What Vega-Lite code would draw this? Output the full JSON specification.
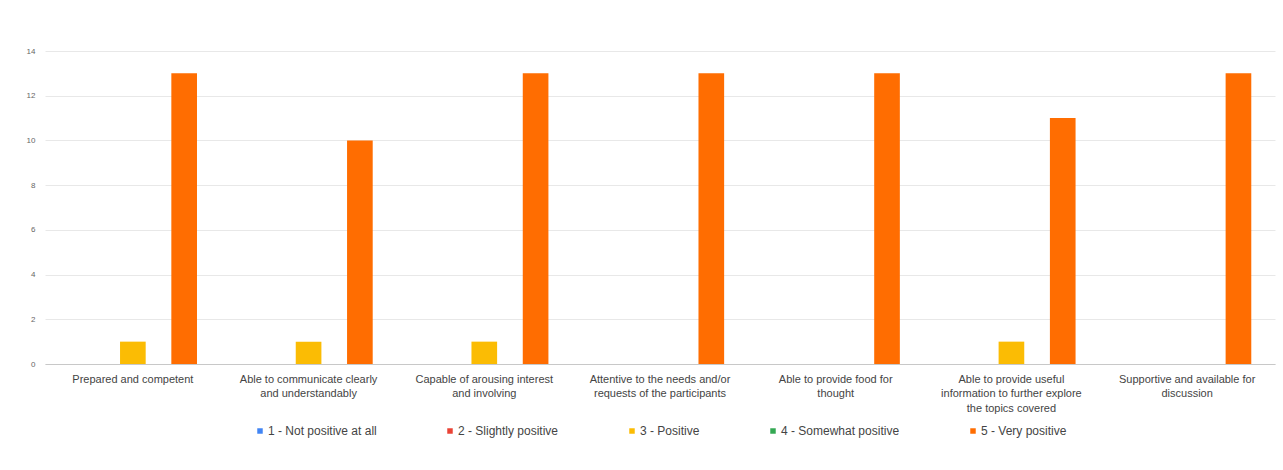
{
  "$schema": "https://vega.github.io/schema/vega-lite/v6.json",
  "autosize": {"type": "none"},
  "padding": {"left": 45, "top": 51, "right": 8, "bottom": 106},
  "width": 1230,
  "height": 313,
  "background": "white",
  "data": {
    "values": [
      {"item": "Prepared and competent", "rating": "3 - Positive", "count": 1},
      {"item": "Prepared and competent", "rating": "5 - Very positive", "count": 13},
      {"item": "Able to communicate clearly|and understandably", "rating": "3 - Positive", "count": 1},
      {"item": "Able to communicate clearly|and understandably", "rating": "5 - Very positive", "count": 10},
      {"item": "Capable of arousing interest|and involving", "rating": "3 - Positive", "count": 1},
      {"item": "Capable of arousing interest|and involving", "rating": "5 - Very positive", "count": 13},
      {"item": "Attentive to the needs and/or|requests of the participants", "rating": "5 - Very positive", "count": 13},
      {"item": "Able to provide food for|thought", "rating": "5 - Very positive", "count": 13},
      {"item": "Able to provide useful|information to further explore|the topics covered", "rating": "3 - Positive", "count": 1},
      {"item": "Able to provide useful|information to further explore|the topics covered", "rating": "5 - Very positive", "count": 11},
      {"item": "Supportive and available for|discussion", "rating": "5 - Very positive", "count": 13}
    ]
  },
  "mark": {"type": "bar"},
  "encoding": {
    "x": {
      "field": "item",
      "type": "nominal",
      "sort": null,
      "title": null,
      "scale": {"paddingInner": 0.27, "paddingOuter": 0.135},
      "axis": {
        "labelAngle": 0,
        "labelExpr": "split(datum.value, '|')",
        "labelFont": "Liberation Sans",
        "labelFontSize": 11,
        "labelColor": "#444444",
        "labelLineHeight": 14.5,
        "labelPadding": 9,
        "labelLimit": 300,
        "ticks": false,
        "domainColor": "#c8c8c8",
        "grid": false
      }
    },
    "xOffset": {
      "field": "rating",
      "type": "nominal",
      "scale": {"domain": ["1 - Not positive at all", "2 - Slightly positive", "3 - Positive", "4 - Somewhat positive", "5 - Very positive"], "paddingInner": 0, "paddingOuter": 0}
    },
    "y": {
      "field": "count",
      "type": "quantitative",
      "title": null,
      "scale": {"domain": [0, 14]},
      "axis": {
        "values": [0, 2, 4, 6, 8, 10, 12, 14],
        "labelFont": "Liberation Sans",
        "labelFontSize": 8,
        "labelColor": "#666666",
        "labelPadding": 10,
        "ticks": false,
        "domain": false,
        "gridColor": "#e8e8e8"
      }
    },
    "color": {
      "field": "rating",
      "type": "nominal",
      "title": null,
      "scale": {
        "domain": ["1 - Not positive at all", "2 - Slightly positive", "3 - Positive", "4 - Somewhat positive", "5 - Very positive"],
        "range": ["#4285F4", "#EA4335", "#FBBC04", "#34A853", "#FF6D01"]
      },
      "legend": {
        "orient": "bottom",
        "direction": "horizontal",
        "columns": 5,
        "columnPadding": 67,
        "symbolType": "square",
        "symbolSize": 30,
        "symbolStrokeWidth": 0,
        "labelFont": "Liberation Sans",
        "labelFontSize": 12,
        "labelColor": "#444444",
        "labelOffset": 2,
        "offset": 12
      }
    }
  },
  "config": {
    "view": {"stroke": null},
    "legend": {"layout": {"bottom": {"anchor": "middle"}}}
  }
}
